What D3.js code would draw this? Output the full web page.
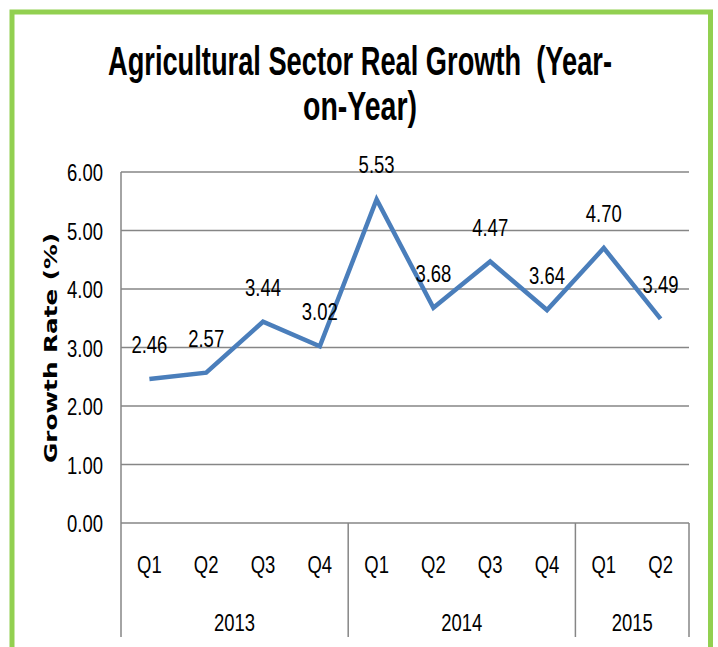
<!DOCTYPE html>
<html lang="en">
<head>
<meta charset="UTF-8">
<title>Agricultural Sector Real Growth</title>
<script src="https://cdn.jsdelivr.net/npm/d3@7"></script>
<style>
  body { margin: 0; background: #fff; }
  text { fill: #000; white-space: pre; }
</style>
</head>
<body>
<script>
// chart data
const quarters = ["Q1", "Q2", "Q3", "Q4", "Q1", "Q2", "Q3", "Q4", "Q1", "Q2"]
const quarterYears = ["2013", "2013", "2013", "2013", "2014", "2014", "2014", "2014", "2015", "2015"]
const years = ["2013", "2014", "2015"]
const growth = [2.46, 2.57, 3.44, 3.02, 5.53, 3.68, 4.47, 3.64, 4.70, 3.49]
const yTicks = [0, 1, 2, 3, 4, 5, 6]

const w = 718
const h = 647
const plotLeft = 121, plotRight = 689, plotTop = 172, plotBottom = 523, catBottom = 637
const font = "'Liberation Sans', Arial, sans-serif"
const fs = 24, squeeze = 0.77

// squeeze text horizontally, the original uses a narrow face
function narrow(sel, k) {
    sel.each(function () {
        const len = this.getComputedTextLength()
        d3.select(this).attr("textLength", len * k).attr("lengthAdjust", "spacingAndGlyphs")
    })
}

const svg = d3.select("body").append("svg")
    .attr("width", w)
    .attr("height", h)

svg.append("rect").attr("width", w).attr("height", h).attr("fill", "#fff")

// green frame
svg.append("rect")
    .attr("x", 12).attr("y", 12)
    .attr("width", 698.5).attr("height", 700)
    .attr("fill", "none")
    .attr("stroke", "#92d050")
    .attr("stroke-width", 5)

const keys = quarters.map((q, i) => quarterYears[i] + "-" + q)

const x = d3.scaleBand().domain(keys).range([plotLeft, plotRight])
const y = d3.scaleLinear().domain([0, 6]).range([plotBottom, plotTop])

// gridlines
svg.append("g")
    .selectAll("line")
    .data(yTicks)
    .join("line")
    .attr("x1", plotLeft).attr("x2", plotRight)
    .attr("y1", d => y(d)).attr("y2", d => y(d))
    .attr("stroke", "#868686")
    .attr("stroke-width", 1.5)

// y axis
const yAxis = svg.append("g")
    .attr("transform", `translate(${plotLeft},0)`)
    .call(d3.axisLeft(y).tickValues(yTicks).tickFormat(d3.format(".2f")).tickSize(0).tickPadding(18))
yAxis.select(".domain").remove()
yAxis.selectAll("text")
    .attr("font-family", font)
    .attr("font-size", fs)
    .attr("dy", "0.36em")
    .attr("fill", "#000")
    .call(narrow, squeeze)

// left axis line and year separators
const groupEdges = years.map(yr => {
    const ks = keys.filter((k, i) => quarterYears[i] === yr)
    return { year: yr, x0: x(ks[0]), x1: x(ks[ks.length - 1]) + x.bandwidth() }
})
svg.append("line")
    .attr("x1", plotLeft).attr("x2", plotLeft)
    .attr("y1", plotTop).attr("y2", catBottom)
    .attr("stroke", "#868686").attr("stroke-width", 1.5)
svg.append("g")
    .selectAll("line")
    .data(groupEdges)
    .join("line")
    .attr("x1", d => d.x1).attr("x2", d => d.x1)
    .attr("y1", plotBottom).attr("y2", catBottom)
    .attr("stroke", "#868686").attr("stroke-width", 1.5)

// category labels
svg.append("g")
    .selectAll("text")
    .data(keys)
    .join("text")
    .attr("x", d => x(d) + x.bandwidth() / 2)
    .attr("y", 573)
    .attr("text-anchor", "middle")
    .attr("font-family", font)
    .attr("font-size", fs)
    .text((d, i) => quarters[i])
    .call(narrow, squeeze)

svg.append("g")
    .selectAll("text")
    .data(groupEdges)
    .join("text")
    .attr("x", d => (d.x0 + d.x1) / 2)
    .attr("y", 631)
    .attr("text-anchor", "middle")
    .attr("font-family", font)
    .attr("font-size", fs)
    .text(d => d.year)
    .call(narrow, squeeze)

// line
const line = d3.line()
    .x((d, i) => x(keys[i]) + x.bandwidth() / 2)
    .y(d => y(d))

svg.append("path")
    .datum(growth)
    .attr("d", line)
    .attr("fill", "none")
    .attr("stroke", "#4a7ebb")
    .attr("stroke-width", 4.5)

// data labels
svg.append("g")
    .selectAll("text")
    .data(growth)
    .join("text")
    .attr("x", (d, i) => x(keys[i]) + x.bandwidth() / 2)
    .attr("y", d => y(d) - 26)
    .attr("text-anchor", "middle")
    .attr("font-family", font)
    .attr("font-size", fs)
    .text(d => d3.format(".2f")(d))
    .call(narrow, squeeze)

// title
svg.append("text")
    .attr("x", 360).attr("y", 75)
    .attr("text-anchor", "middle")
    .attr("font-family", font)
    .attr("font-weight", "bold")
    .attr("font-size", 41)
    .attr("textLength", 504)
    .attr("lengthAdjust", "spacingAndGlyphs")
    .text("Agricultural Sector Real Growth  (Year-")
svg.append("text")
    .attr("x", 360).attr("y", 120)
    .attr("text-anchor", "middle")
    .attr("font-family", font)
    .attr("font-weight", "bold")
    .attr("font-size", 41)
    .attr("textLength", 114)
    .attr("lengthAdjust", "spacingAndGlyphs")
    .text("on-Year)")

// y axis title
svg.append("text")
    .attr("transform", "translate(57,348) rotate(-90)")
    .attr("text-anchor", "middle")
    .attr("font-family", "'DejaVu Sans', sans-serif")
    .attr("font-weight", "bold")
    .attr("font-size", 18)
    .attr("textLength", 230)
    .attr("lengthAdjust", "spacingAndGlyphs")
    .text("Growth Rate (%)")
</script>
</body>
</html>
